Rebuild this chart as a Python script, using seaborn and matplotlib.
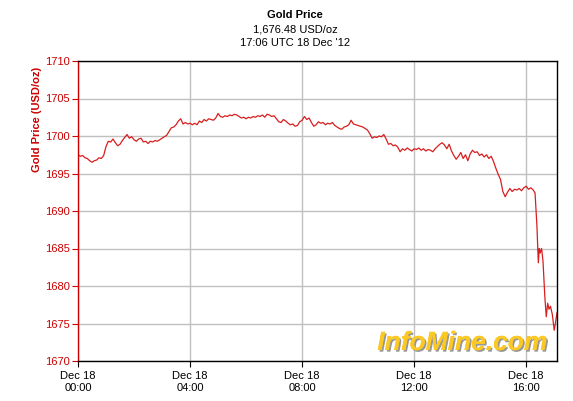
import numpy as np
import pandas as pd
import matplotlib
matplotlib.use("Agg")
from matplotlib import pyplot as plt
import matplotlib.dates as mdates
import matplotlib.patheffects as pe
import seaborn as sns

# minutes after 2012-12-18 00:00 UTC
minutes = [
    0, 5, 10, 15, 20, 25, 30, 35, 40, 45, 50, 55, 60, 65, 70, 75, 80, 85, 90, 95,
    100, 105, 110, 115, 120, 125, 130, 135, 140, 145, 150, 155, 160, 165, 170, 175,
    180, 185, 190, 195, 200, 205, 210, 215, 220, 225, 230, 235, 240, 245, 250, 255,
    260, 265, 270, 275, 280, 285, 290, 295, 300, 305, 310, 315, 320, 325, 330, 335,
    340, 345, 350, 355, 360, 365, 370, 375, 380, 385, 390, 395, 400, 405, 410, 415,
    420, 425, 430, 435, 440, 445, 450, 455, 460, 465, 470, 475, 480, 485, 490, 495,
    500, 505, 510, 515, 520, 525, 530, 535, 540, 545, 550, 555, 560, 565, 570, 575,
    580, 585, 590, 595, 600, 605, 610, 615, 620, 625, 630, 635, 640, 645, 650, 655,
    660, 665, 670, 675, 680, 685, 690, 695, 700, 705, 710, 715, 720, 725, 730, 735,
    740, 745, 750, 755, 760, 765, 770, 775, 780, 785, 790, 795, 800, 805, 810, 815,
    820, 825, 830, 835, 840, 845, 850, 855, 860, 865, 870, 875, 880, 885, 890, 895,
    900, 905, 910, 915, 920, 925, 930, 935, 940, 945, 950, 955, 960, 965, 970, 975,
    979, 983, 986, 988, 990, 993, 996, 1000, 1003, 1006, 1009, 1012, 1016, 1020,
    1023, 1026,
]
prices = [
    1697.5, 1697.3, 1697.4, 1697.1, 1697.0, 1696.7, 1696.5, 1696.7, 1696.8, 1697.1,
    1697.0, 1697.4, 1698.6, 1699.3, 1699.2, 1699.6, 1699.1, 1698.7, 1698.9, 1699.4,
    1699.8, 1700.2, 1699.7, 1699.9, 1699.5, 1699.3, 1699.6, 1699.7, 1699.2, 1699.3,
    1699.0, 1699.3, 1699.2, 1699.4, 1699.3, 1699.5, 1699.7, 1699.9, 1700.1, 1700.6,
    1701.1, 1701.2, 1701.5, 1702.0, 1702.3, 1701.6, 1701.8, 1701.6, 1701.7, 1701.5,
    1701.7, 1701.5, 1702.0, 1701.8, 1702.2, 1702.0, 1702.3, 1702.2, 1702.1, 1702.4,
    1703.0, 1702.6, 1702.5, 1702.7, 1702.6, 1702.8, 1702.7, 1702.9, 1702.8, 1702.6,
    1702.4, 1702.5, 1702.3, 1702.5, 1702.4, 1702.6, 1702.5, 1702.7, 1702.6, 1702.8,
    1702.5, 1702.9, 1702.8, 1702.6, 1702.7, 1702.3, 1701.9, 1701.8, 1702.2, 1702.0,
    1701.7, 1701.5, 1701.6, 1701.3, 1701.4, 1701.9, 1702.1, 1702.6, 1702.2, 1702.4,
    1701.8, 1701.3, 1701.5, 1701.9, 1701.7, 1701.8, 1701.5, 1701.7, 1701.6, 1701.8,
    1701.4, 1701.2, 1701.0, 1700.9, 1701.2, 1701.3, 1701.5, 1702.1, 1701.6, 1701.5,
    1701.4, 1701.3, 1701.2, 1701.0, 1700.8, 1700.3, 1699.7, 1699.9, 1699.8, 1700.0,
    1699.9, 1700.2, 1699.6, 1698.9, 1699.0, 1698.7, 1698.8, 1698.5, 1697.9, 1698.3,
    1698.1, 1698.4, 1698.2, 1698.0, 1698.3, 1698.2, 1698.4, 1698.1, 1698.3, 1698.0,
    1698.2, 1698.1, 1697.9, 1698.3, 1698.6, 1698.9, 1699.1, 1698.8, 1698.3, 1698.9,
    1698.0, 1697.4, 1696.9, 1697.3, 1697.8, 1697.0, 1697.5, 1696.7, 1697.6, 1698.1,
    1697.8, 1697.9, 1697.4, 1697.6, 1697.2, 1697.5, 1697.0, 1697.3, 1696.6, 1695.7,
    1694.9, 1694.2, 1692.6, 1691.9, 1692.5, 1693.0, 1692.6, 1692.9, 1692.8, 1693.0,
    1692.7, 1693.1, 1693.3, 1692.9, 1693.1, 1692.8,
    1692.4, 1688.0, 1683.1, 1685.0, 1684.4, 1685.0, 1683.3, 1678.5, 1675.9, 1677.7,
    1676.9, 1677.3, 1676.2, 1674.1, 1675.2, 1676.48,
]
y_ticks = [1670, 1675, 1680, 1685, 1690, 1695, 1700, 1705, 1710]
x_tick_hours = [0, 4, 8, 12, 16]

start = pd.Timestamp("2012-12-18 00:00")
df = pd.DataFrame({
    "time": start + pd.to_timedelta(minutes, unit="m"),
    "price": prices,
})

sns.set_style("white")
plt.rcParams["font.family"] = ["Liberation Sans", "DejaVu Sans"]
plt.rcParams["text.color"] = "black"

RED = "#cc0000"
fig = plt.figure(figsize=(5.73, 4.01), dpi=100)
ax = fig.add_axes([78 / 573, 1 - 361 / 401, (557 - 78) / 573, (361 - 61) / 401])

sns.lineplot(data=df, x="time", y="price", ax=ax, color="#d81e1e", linewidth=0.9)

ax.set_ylim(1670, 1710)
ax.set_yticks(y_ticks)
ax.set_xlim(start, start + pd.Timedelta(minutes=1026))
ax.set_xticks([start + pd.Timedelta(hours=h) for h in x_tick_hours])
ax.xaxis.set_major_formatter(mdates.DateFormatter("%b %d\n%H:%M"))

ax.grid(True, color="#c0c0c0", linewidth=1.0)
ax.set_axisbelow(True)
for s in ["top", "right", "bottom"]:
    ax.spines[s].set_color("black")
    ax.spines[s].set_linewidth(1.0)
ax.spines["left"].set_color(RED)
ax.spines["left"].set_linewidth(1.0)

ax.tick_params(axis="y", colors=RED, labelcolor=RED, labelsize=8, length=4, direction="out", left=True, pad=2)
ax.tick_params(axis="x", colors="black", labelcolor="black", labelsize=8, length=4, direction="out", bottom=True, pad=3)
for lbl in ax.get_xticklabels():
    lbl.set_horizontalalignment("center")
    lbl.set_linespacing(1.3)

ax.set_xlabel("")
ax.set_ylabel("Gold Price (USD/oz)", color=RED, fontsize=8, fontweight="bold")
ax.yaxis.set_label_coords(-0.075, 0.805)

fig.text(295 / 573, 1 - 15 / 401, "Gold Price", ha="center", va="center", fontsize=8, fontweight="bold", color="black")
fig.text(295 / 573, 1 - 30 / 401, "1,676.48 USD/oz", ha="center", va="center", fontsize=8, color="black")
fig.text(295 / 573, 1 - 43 / 401, "17:06 UTC 18 Dec '12", ha="center", va="center", fontsize=8, color="black")

logo = ax.text(0.98, 0.02, "InfoMine.com", transform=ax.transAxes, ha="right", va="bottom",
               fontsize=19, fontweight="bold", fontstyle="italic", color="#fcc824")
logo.set_path_effects([pe.withSimplePatchShadow(offset=(1.2, -1.2), shadow_rgbFace="#8c8c8c", alpha=0.9),
                       pe.Normal()])

fig.savefig("out.png", dpi=100)
